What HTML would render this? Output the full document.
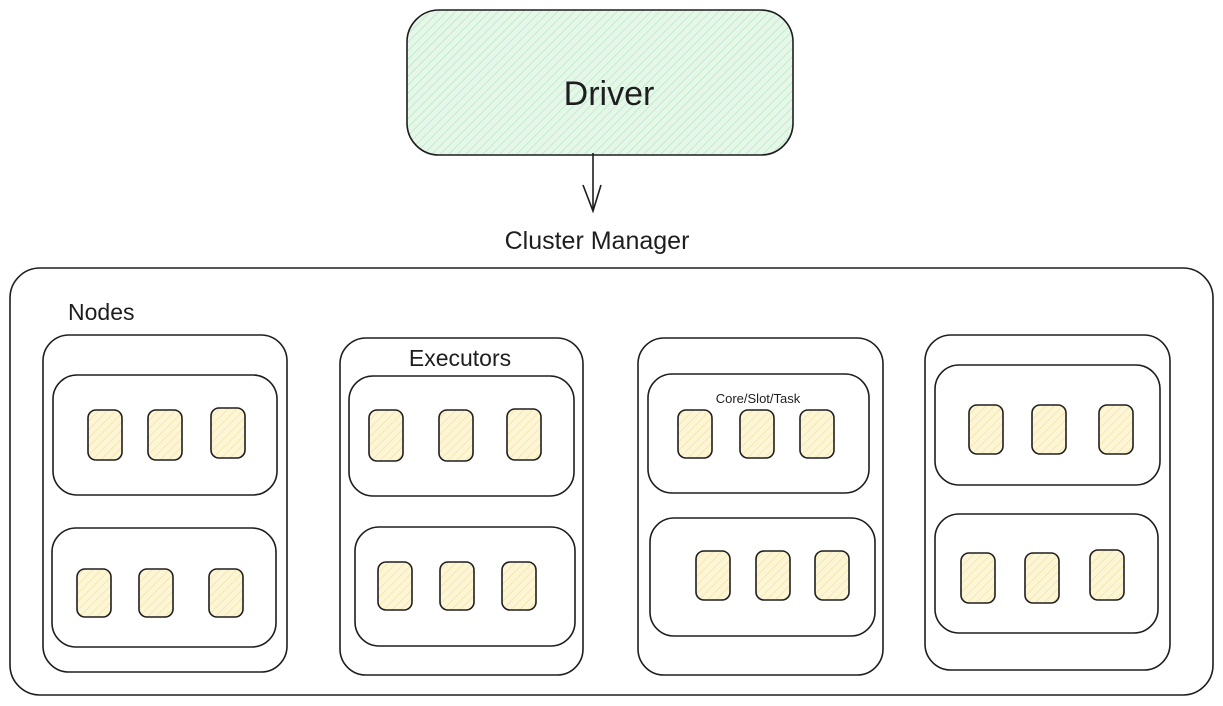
<!DOCTYPE html>
<html><head><meta charset="utf-8"><style>
html,body{margin:0;padding:0;background:#fff;}
svg{display:block;}
text{font-family:"Liberation Sans",sans-serif;fill:#1e1e1e;}
</style></head><body>
<svg width="1223" height="706" viewBox="0 0 1223 706" xmlns="http://www.w3.org/2000/svg">
<defs>
<pattern id="g" width="6" height="6" patternUnits="userSpaceOnUse" patternTransform="rotate(45)">
<rect width="6" height="6" fill="#e6f7ea"/><line x1="0" y1="0" x2="0" y2="6" stroke="#b2ebc0" stroke-width="1.5"/></pattern>
<pattern id="y" width="6" height="6" patternUnits="userSpaceOnUse" patternTransform="rotate(45)">
<rect width="6" height="6" fill="#fdf6d6"/><line x1="0" y1="0" x2="0" y2="6" stroke="#f3e3a0" stroke-width="1.5"/></pattern>
</defs>
<g fill="none" stroke="#1e1e1e" stroke-width="1.6">
<rect x="407" y="10" width="386" height="145" rx="32" fill="url(#g)"/>
<line x1="593" y1="153" x2="593" y2="211"/>
<polyline points="583,185 593,211 601,185"/>
<rect x="10" y="268" width="1203" height="427" rx="30"/>
<rect x="43" y="335" width="244" height="337" rx="26"/>
<rect x="53" y="375" width="224" height="120" rx="24"/>
<rect x="52" y="528" width="224" height="119" rx="24"/>
<rect x="340" y="338" width="243" height="337" rx="26"/>
<rect x="349" y="376" width="225" height="120" rx="24"/>
<rect x="355" y="527" width="220" height="119" rx="24"/>
<rect x="638" y="338" width="245" height="337" rx="26"/>
<rect x="648" y="374" width="221" height="119" rx="24"/>
<rect x="650" y="518" width="225" height="118" rx="24"/>
<rect x="925" y="335" width="245" height="335" rx="26"/>
<rect x="935" y="365" width="225" height="120" rx="24"/>
<rect x="935" y="514" width="223" height="119" rx="24"/>
</g>
<g fill="url(#y)" stroke="#1e1e1e" stroke-width="1.6">
<rect x="88" y="410" width="34" height="50" rx="8"/><rect x="148" y="410" width="34" height="50" rx="8"/><rect x="211" y="408" width="34" height="50" rx="8"/>
<rect x="77" y="569" width="34" height="48" rx="8"/><rect x="139" y="569" width="34" height="48" rx="8"/><rect x="209" y="569" width="34" height="48" rx="8"/>
<rect x="369" y="410" width="34" height="51" rx="8"/><rect x="439" y="410" width="34" height="51" rx="8"/><rect x="507" y="409" width="34" height="51" rx="8"/>
<rect x="378" y="562" width="34" height="48" rx="8"/><rect x="440" y="562" width="34" height="48" rx="8"/><rect x="502" y="562" width="34" height="48" rx="8"/>
<rect x="678" y="410" width="34" height="48" rx="8"/><rect x="740" y="410" width="34" height="48" rx="8"/><rect x="800" y="410" width="34" height="48" rx="8"/>
<rect x="696" y="551" width="34" height="49" rx="8"/><rect x="756" y="551" width="34" height="49" rx="8"/><rect x="815" y="551" width="34" height="49" rx="8"/>
<rect x="969" y="405" width="34" height="49" rx="8"/><rect x="1032" y="405" width="34" height="49" rx="8"/><rect x="1099" y="405" width="34" height="49" rx="8"/>
<rect x="961" y="553" width="34" height="50" rx="8"/><rect x="1025" y="553" width="34" height="50" rx="8"/><rect x="1090" y="550" width="34" height="50" rx="8"/>
</g>
<text x="609" y="105" font-size="34" text-anchor="middle">Driver</text>
<text x="597" y="249" font-size="25" text-anchor="middle">Cluster Manager</text>
<text x="68" y="320" font-size="23">Nodes</text>
<text x="460" y="366" font-size="23" text-anchor="middle">Executors</text>
<text x="758" y="403" font-size="13" text-anchor="middle">Core/Slot/Task</text>
</svg>
</body></html>
